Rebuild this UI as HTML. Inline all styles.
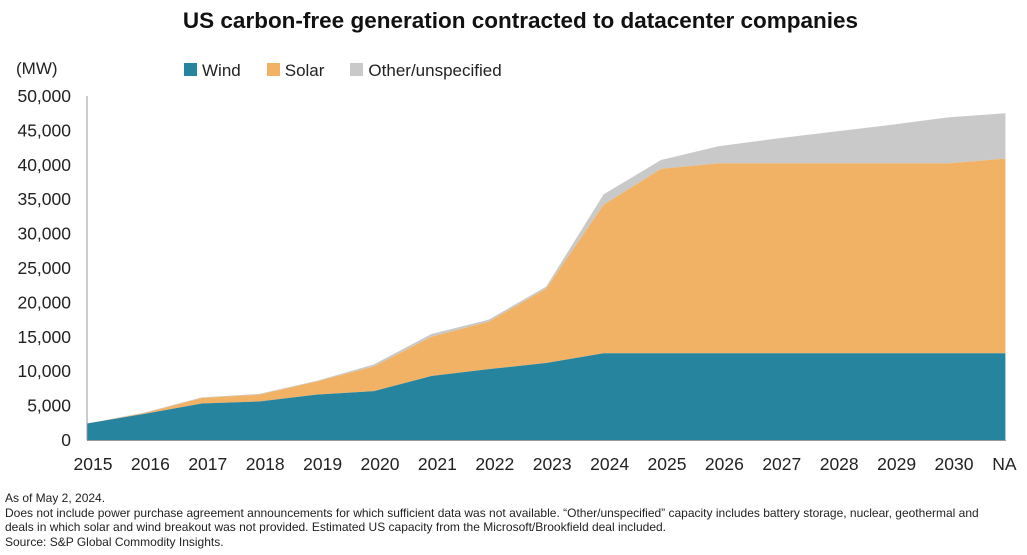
<!DOCTYPE html>
<html><head><meta charset="utf-8"><style>
body{margin:0;width:1027px;height:555px;background:#fff;font-family:"Liberation Sans",sans-serif;overflow:hidden;position:relative;color:#222}
.t{position:absolute}
</style></head><body>
<div class="t" style="left:0;width:1041px;top:8px;text-align:center;font-size:22.5px;font-weight:bold;color:#111">US carbon-free generation contracted to datacenter companies</div>
<div class="t" style="left:16px;top:59px;font-size:17px">(MW)</div>
<div class="t" style="left:184px;top:61px;font-size:17px;display:flex;gap:0">
<span><span style="display:inline-block;width:13px;height:13px;background:#27849e;margin-right:5px"></span>Wind</span>
<span style="margin-left:26px"><span style="display:inline-block;width:13px;height:13px;background:#f2b266;margin-right:5px"></span>Solar</span>
<span style="margin-left:26px"><span style="display:inline-block;width:13px;height:13px;background:#c9c9c9;margin-right:5px"></span>Other/unspecified</span>
</div>
<svg id="chart" width="1027" height="555" style="position:absolute;left:0;top:0"></svg>
<div class="t" style="left:5px;top:491px;font-size:12px;line-height:14.5px;color:#222">As of May 2, 2024.<br>Does not include power purchase agreement announcements for which sufficient data was not available. “Other/unspecified” capacity includes battery storage, nuclear, geothermal and<br>deals in which solar and wind breakout was not provided. Estimated US capacity from the Microsoft/Brookfield deal included.<br>Source: S&amp;P Global Commodity Insights.</div>
<script>
const categories=["2015","2016","2017","2018","2019","2020","2021","2022","2023","2024","2025","2026","2027","2028","2029","2030","NA"];
const wind=[2400,3800,5300,5600,6600,7100,9300,10300,11200,12600,12600,12600,12600,12600,12600,12600,12600];
const solar=[0,100,800,1000,1900,3600,5700,6900,10800,21600,26800,27600,27600,27600,27600,27600,28300];
const other=[0,100,100,100,100,300,400,300,300,1500,1300,2500,3600,4600,5600,6700,6600];
const yTicks=[0,5000,10000,15000,20000,25000,30000,35000,40000,45000,50000];
const NS="http://www.w3.org/2000/svg";
const svg=document.getElementById("chart");
const x0=87,dx=57.4,y0=440,ppu=344/50000;
const X=i=>x0+i*dx, Y=v=>y0-v*ppu;
function area(lo,hi,color,name){
  let d="M"+X(0)+","+Y(hi[0]);
  for(let i=1;i<hi.length;i++)d+="L"+X(i)+","+Y(hi[i]);
  for(let i=lo.length-1;i>=0;i--)d+="L"+X(i)+","+Y(lo[i]);
  const p=document.createElementNS(NS,"path");
  p.setAttribute("d",d+"Z");p.setAttribute("fill",color);
  
  
  svg.appendChild(p);
}
const zero=wind.map(()=>0);
const s1=wind.slice();
const s2=wind.map((w,i)=>w+solar[i]);
const s3=s2.map((v,i)=>v+other[i]);
area(s2,s3,"#c9c9c9","other-area");
area(s1,s2,"#f2b266","solar-area");
area(zero,s1,"#27849e","wind-area");
function line(x1,y1,x2,y2,name){const l=document.createElementNS(NS,"line");l.setAttribute("x1",x1);l.setAttribute("y1",y1);l.setAttribute("x2",x2);l.setAttribute("y2",y2);l.setAttribute("stroke","#999");l.setAttribute("stroke-width","1");


svg.appendChild(l);}
line(87,96,87,440,"y-axis-line");
line(87,440.5,1006,440.5,"x-axis-line");
function text(x,y,s,anchor,name){const t=document.createElementNS(NS,"text");t.setAttribute("x",x);t.setAttribute("y",y);t.setAttribute("text-anchor",anchor);t.setAttribute("font-size","17.5");t.setAttribute("fill","#222");t.setAttribute("font-family","Liberation Sans, sans-serif");t.textContent=s;


svg.appendChild(t);}
yTicks.forEach(v=>text(71,Y(v)+6,v.toLocaleString("en-US"),"end","y-tick-label"));
categories.forEach((c,i)=>text(c==="NA"?X(i)-1:X(i)+6,470,c,"middle","x-tick-label"));
</script>
</body></html>
